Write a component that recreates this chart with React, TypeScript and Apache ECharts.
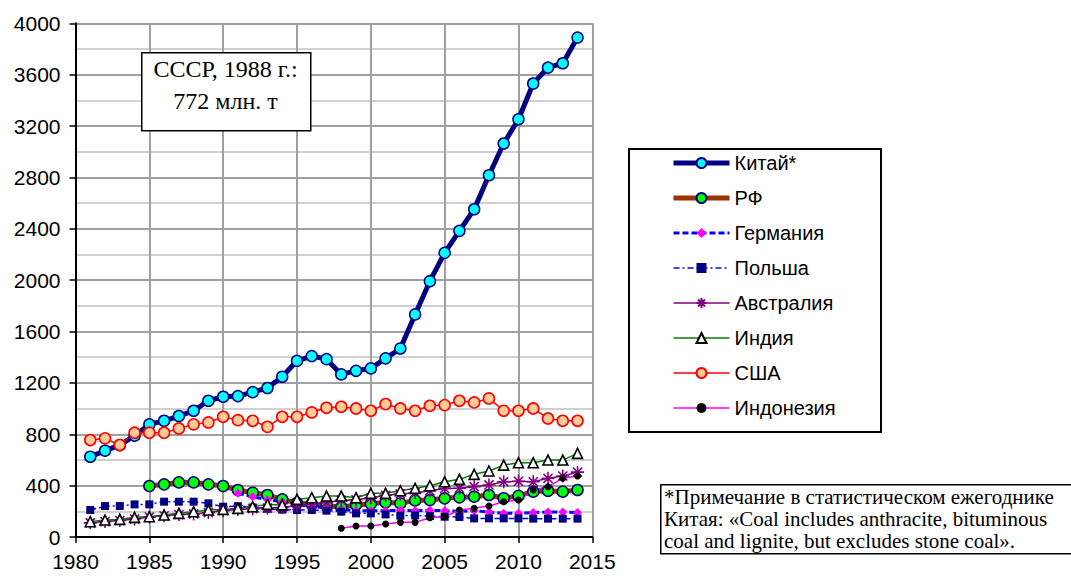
import React, { useEffect, useRef } from "react";
import * as echarts from "echarts";

const years = [1981,1982,1983,1984,1985,1986,1987,1988,1989,1990,1991,1992,1993,1994,1995,1996,1997,1998,1999,2000,2001,2002,2003,2004,2005,2006,2007,2008,2009,2010,2011,2012,2013,2014];
const xTicks = [1980, 1985, 1990, 1995, 2000, 2005, 2010, 2015];
const yTicks = [0, 400, 800, 1200, 1600, 2000, 2400, 2800, 3200, 3600, 4000];

const china = [625,672,715,789,877,905,942,983,1061,1092,1097,1128,1160,1248,1372,1409,1385,1266,1294,1313,1391,1468,1733,1992,2212,2384,2552,2817,3064,3253,3531,3655,3689,3889];
const russia = [null,null,null,null,397,410,425,425,410,397,366,345,327,293,265,257,245,232,250,258,270,262,285,288,301,309,314,327,302,320,353,360,353,366];
const germany = [null,null,null,null,null,null,null,null,null,null,340,314,290,275,250,240,225,215,205,205,205,208,205,208,205,200,205,195,185,185,190,195,195,190];
const poland = [210,241,241,254,254,275,275,275,262,236,240,230,220,213,210,210,205,197,184,184,176,166,168,163,158,156,145,145,145,145,143,143,143,143];
const australia = [110,120,128,140,155,165,175,180,190,205,215,220,225,230,245,255,270,285,290,305,325,335,345,360,378,380,392,405,430,434,430,457,475,505];
const india = [119,132,137,153,158,171,184,197,210,215,223,236,254,250,293,306,319,319,306,340,340,360,379,399,430,449,488,514,560,578,578,599,599,651];
const usa = [755,768,716,812,812,812,845,877,892,936,910,905,858,936,936,970,1006,1014,1001,983,1035,1001,983,1022,1027,1061,1048,1079,983,983,1001,923,905,905];
const indonesia = [null,null,null,null,null,null,null,null,null,null,null,null,null,null,null,null,null,68,86,86,101,114,114,150,158,210,223,241,275,288,366,392,457,475];

const boxText = ["СССР, 1988 г.:", "772 млн. т"];
const noteText = [
  "*Примечание в статистическом ежегоднике",
  "Китая: «Coal includes anthracite, bituminous",
  "coal and lignite, but excludes stone coal».",
];

const pairs = (vals: (number | null)[]) =>
  years.map((y, i) => (vals[i] == null ? null : [y, vals[i]])).filter((p) => p !== null);

const SANS = "'Liberation Sans', Arial, sans-serif";
const SERIF = "'Liberation Serif', 'Times New Roman', serif";
const ASTERISK = "path://M5,0L5,10M0,5L10,5M1.5,1.5L8.5,8.5M8.5,1.5L1.5,8.5";

export default function App() {
  const ref = useRef<HTMLDivElement>(null);
  useEffect(() => {
    if (!ref.current) return;
    const chart = echarts.init(ref.current, null, { renderer: "svg" });
    const series: any[] = [
      {
        name: "Китай*", data: pairs(china), symbol: "circle", symbolSize: 11,
        lineStyle: { color: "#000080", width: 5 },
        itemStyle: { color: "#00FFFF", borderColor: "#000080", borderWidth: 1.5 },
      },
      {
        name: "РФ", data: pairs(russia), symbol: "circle", symbolSize: 11,
        lineStyle: { color: "#993300", width: 5 },
        itemStyle: { color: "#00FF00", borderColor: "#000080", borderWidth: 1.5 },
      },
      {
        name: "Германия", data: pairs(germany), symbol: "diamond", symbolSize: 9,
        lineStyle: { color: "#0000FF", width: 3, type: [6, 3] },
        itemStyle: { color: "#FF00FF", borderColor: "#FF00FF", borderWidth: 0 },
      },
      {
        name: "Польша", data: pairs(poland), symbol: "rect", symbolSize: 8,
        lineStyle: { color: "#0000FF", width: 1.5, type: [6, 3, 2, 3] },
        itemStyle: { color: "#000080", borderColor: "#000080", borderWidth: 0 },
      },
      {
        name: "Австралия", data: pairs(australia), symbol: ASTERISK, symbolSize: 13,
        lineStyle: { color: "#800080", width: 1.5 },
        itemStyle: { color: "none", borderColor: "#800080", borderWidth: 1.6 },
      },
      {
        name: "Индия", data: pairs(india), symbol: "triangle", symbolSize: 10,
        lineStyle: { color: "#008000", width: 1.5 },
        itemStyle: { color: "#FFFFFF", borderColor: "#000000", borderWidth: 1.6 },
      },
      {
        name: "США", data: pairs(usa), symbol: "circle", symbolSize: 11,
        lineStyle: { color: "#FF0000", width: 1.5 },
        itemStyle: { color: "#FFCC99", borderColor: "#FF0000", borderWidth: 1.6 },
      },
      {
        name: "Индонезия", data: pairs(indonesia), symbol: "circle", symbolSize: 7,
        lineStyle: { color: "#FF00FF", width: 1.5 },
        itemStyle: { color: "#000000", borderColor: "#000000", borderWidth: 0 },
      },
    ].map((s) => ({ type: "line", showSymbol: true, connectNulls: false, ...s }));

    const legendData = series.map((s) => ({
      name: s.name,
      lineStyle: { width: s.lineStyle.width, color: s.lineStyle.color, type: s.lineStyle.type || "solid" },
    }));

    chart.setOption({
      animation: false,
      backgroundColor: "#FFFFFF",
      grid: { left: 75.5, right: 478.7, top: 23.3, bottom: 42, containLabel: false },
      xAxis: {
        type: "value", min: xTicks[0], max: xTicks[xTicks.length - 1], interval: 5,
        axisLine: { show: true, onZero: false, lineStyle: { color: "#000", width: 2 } },
        axisTick: { show: true, length: 6, lineStyle: { color: "#000", width: 1.5 } },
        axisLabel: { color: "#000", fontSize: 21, fontFamily: SANS, margin: 14, formatter: (v: number) => String(v) },
        splitLine: { show: true, lineStyle: { color: "#A0A0A0", width: 2 } },
      },
      yAxis: {
        type: "value", min: yTicks[0], max: yTicks[yTicks.length - 1], interval: 400,
        axisLine: { show: true, lineStyle: { color: "#000", width: 2 } },
        axisTick: { show: true, length: 6, lineStyle: { color: "#000", width: 1.5 } },
        axisLabel: { color: "#000", fontSize: 21, fontFamily: SANS, margin: 15, formatter: (v: number) => String(v) },
        splitLine: { show: true, lineStyle: { color: "#A0A0A0", width: 2 } },
        minorTick: { show: false, splitNumber: 2 },
        minorSplitLine: { show: true, lineStyle: { color: "#D0D0D0", width: 2 } },
      },
      legend: {
        orient: "vertical", left: 671, top: 153, padding: 0,
        itemWidth: 56, itemHeight: 12.5, itemGap: 15,
        textStyle: { color: "#000", fontSize: 20, fontFamily: SANS },
        data: legendData,
      },
      graphic: [
        {
          type: "rect", left: 628, top: 148, z: 0,
          shape: { width: 252, height: 283 },
          style: { fill: "#FFFFFF", stroke: "#000", lineWidth: 2 },
        },
        {
          type: "rect", left: 141, top: 52, z: 10,
          shape: { width: 169, height: 78 },
          style: { fill: "#FFFFFF", stroke: "#000", lineWidth: 1.5 },
        },
        {
          type: "text", z: 11,
          style: {
            text: boxText.join("\n"), x: 225.5, y: 53, align: "center", verticalAlign: "top",
            font: `24px ${SERIF}`, lineHeight: 32, fill: "#000",
          },
        },
        {
          type: "rect", left: 660, top: 484, z: 10,
          shape: { width: 430, height: 69 },
          style: { fill: "#FFFFFF", stroke: "#000", lineWidth: 1.5 },
        },
        {
          type: "text", z: 11,
          style: {
            text: noteText.join("\n"), x: 664, y: 486, align: "left", verticalAlign: "top",
            font: `21px ${SERIF}`, lineHeight: 22, fill: "#000",
          },
        },
      ],
      series,
    });
    return () => chart.dispose();
  }, []);
  return <div ref={ref} style={{ width: 1071, height: 579, position: "absolute", left: 0, top: 0 }} />;
}
